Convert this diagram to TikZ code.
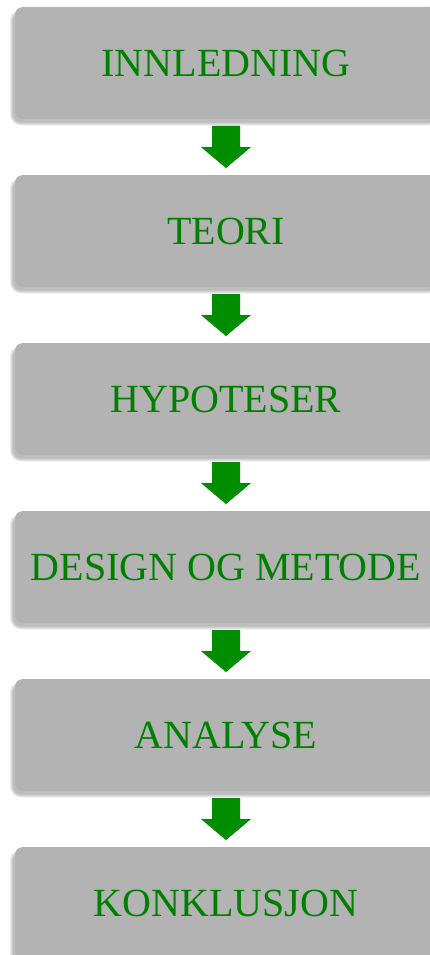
\documentclass[tikz,border=0pt]{standalone}
\usepackage{fontspec}
\setmainfont{Liberation Serif}
\usetikzlibrary{calc}
\definecolor{boxgray}{RGB}{179,179,179}
\definecolor{textgreen}{RGB}{0,128,0}
\definecolor{arrowgreen}{RGB}{0,142,0}
\tikzset{
  stagesize/.style={minimum width=422pt, minimum height=112pt, inner sep=0pt},
  stage/.style={
    stagesize, fill=boxgray, draw=none, rounded corners=8pt,
    text=textgreen, font=\fontsize{40}{48}\selectfont,
    text height=27pt, text depth=0pt},
  shadowlayer/.style={fill=black, fill opacity=0.07, draw=none},
  blockarrow/.style={fill=arrowgreen, draw=none}
}
% soft drop shadow behind a stage, built from a few widening layers
\newcommand{\stageshadow}[1]{%
  \foreach \k in {0.5,1.5,2.5,3.5}{%
    \fill[shadowlayer, rounded corners={8pt+\k pt}]
      ($(#1.south west)+(-1.5-\k,-3-\k)$) rectangle ($(#1.north east)+(-1.5+\k,-6+\k)$);}}
% block arrow between the bottom of one stage and the top of the next
\newcommand{\arrowoutline}{%
  ($(mid)+(-14,21)$) -- ($(mid)+(14,21)$) -- ($(mid)+(14,0)$)
    -- ($(mid)+(25,0)$) -- ($(mid)+(0,-21)$) -- ($(mid)+(-25,0)$)
    -- ($(mid)+(-14,0)$) -- cycle}
\newcommand{\flowarrow}[2]{%
  \coordinate (mid) at ($(#1.south)!0.5!(#2.north)$);
  \begin{scope}[shift={(-1,-2.5)}]
    \fill[black, fill opacity=0.12] \arrowoutline;
  \end{scope}
  \begin{scope}[shift={(-0.5,-1.2)}]
    \fill[black, fill opacity=0.12] \arrowoutline;
  \end{scope}
  \fill[blockarrow] \arrowoutline;}
\begin{document}
\begin{tikzpicture}[x=1pt,y=1pt]
  \clip (0,0) rectangle (430,-955);
  \fill[white] (0,0) rectangle (430,-955);
  % stage positions, then shadows underneath, then the stages on top
  \path (226,-63)  coordinate (p1) (226,-231) coordinate (p2)
        (226,-399) coordinate (p3) (226,-567) coordinate (p4)
        (226,-735) coordinate (p5) (226,-903) coordinate (p6);
  \foreach \i in {1,...,6}{
    \node[stagesize] (g\i) at (p\i) {};
    \stageshadow{g\i}
  }
  \node[stage] (s1) at (p1) {INNLEDNING};
  \node[stage] (s2) at (p2) {TEORI};
  \node[stage] (s3) at (p3) {HYPOTESER};
  \node[stage] (s4) at (p4) {DESIGN OG METODE};
  \node[stage] (s5) at (p5) {ANALYSE};
  \node[stage] (s6) at (p6) {KONKLUSJON};
  \flowarrow{s1}{s2}
  \flowarrow{s2}{s3}
  \flowarrow{s3}{s4}
  \flowarrow{s4}{s5}
  \flowarrow{s5}{s6}
\end{tikzpicture}
\end{document}
